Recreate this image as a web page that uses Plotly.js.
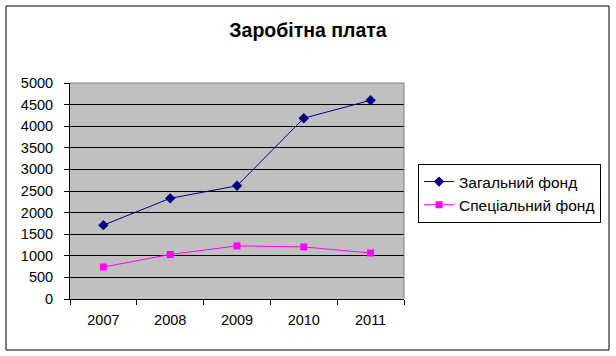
<!DOCTYPE html>
<html>
<head>
<meta charset="utf-8">
<script src="https://cdn.plot.ly/plotly-3.0.1.min.js"></script>
<style>html,body{margin:0;padding:0;background:#fff;}#chart{width:616px;height:356px;}</style>
</head>
<body>
<div id="chart"></div>
<script>
const years = ['2007', '2008', '2009', '2010', '2011'];
const generalFund = [1710, 2330, 2620, 4185, 4600];
const specialFund = [740, 1030, 1230, 1205, 1065];
const seriesNames = ['Загальний фонд', 'Спеціальний фонд'];
const titleText = 'Заробітна плата';

const font = 'Liberation Sans, Arial, sans-serif';
const L = 70, R = 404, T = 83, B = 299, W = 616, H = 356;
const pw = R - L, ph = B - T;
const px = x => (x - L) / pw;
const py = y => (B - y) / ph;

const traces = [
  {x: years, y: generalFund, name: seriesNames[0], type: 'scatter', mode: 'lines+markers',
   line: {color: '#000080', width: 1}, marker: {symbol: 'diamond', size: 8, color: '#000080'}},
  {x: years, y: specialFund, name: seriesNames[1], type: 'scatter', mode: 'lines+markers',
   line: {color: '#FF00FF', width: 1}, marker: {symbol: 'square', size: 7, color: '#FF00FF'}}
];

const layout = {
  width: W, height: H,
  margin: {l: L, r: W - R, t: T, b: H - B, pad: 0},
  paper_bgcolor: '#ffffff',
  plot_bgcolor: '#c0c0c0',
  font: {family: font, size: 14, color: '#000'},
  title: {text: '<b>' + titleText + '</b>', font: {family: font, size: 19.5, color: '#000'},
          x: 308 / W, xref: 'container', xanchor: 'center', y: 1 - 30 / H, yref: 'container', yanchor: 'middle'},
  xaxis: {type: 'category', range: [-0.5, 4.5], tickson: 'boundaries', ticks: 'outside', ticklen: 5, tickcolor: '#000',
          showline: true, linecolor: '#000', linewidth: 1, showgrid: false, zeroline: false,
          tickfont: {family: font, size: 14.5}, ticklabelstandoff: 8, fixedrange: true},
  yaxis: {range: [0, 5000], dtick: 500, ticks: 'outside', ticklen: 5, tickcolor: '#000',
          showline: true, linecolor: '#000', linewidth: 1, showgrid: true, gridcolor: '#000', gridwidth: 1,
          zeroline: false, tickfont: {family: font, size: 14.5}, ticklabelstandoff: 8, fixedrange: true},
  showlegend: true,
  legend: {x: px(418), y: py(164), xanchor: 'left', yanchor: 'top', bgcolor: '#fff',
           bordercolor: '#000', borderwidth: 1, font: {family: font, size: 15.5},
           tracegroupgap: 0, itemwidth: 30},
  shapes: [
    {type: 'line', xref: 'paper', yref: 'paper', x0: 0, x1: 1, y0: 1, y1: 1, line: {color: '#808080', width: 1}, layer: 'above'},
    {type: 'line', xref: 'paper', yref: 'paper', x0: 1, x1: 1, y0: 0, y1: 1, line: {color: '#808080', width: 1}, layer: 'above'},
    {type: 'rect', xref: 'paper', yref: 'paper', x0: px(6), x1: px(609), y0: py(350), y1: py(6),
     line: {color: '#000', width: 1}, fillcolor: 'rgba(0,0,0,0)', layer: 'above'}
  ]
};

Plotly.newPlot('chart', traces, layout, {displayModeBar: false, staticPlot: true});
</script>
</body>
</html>
